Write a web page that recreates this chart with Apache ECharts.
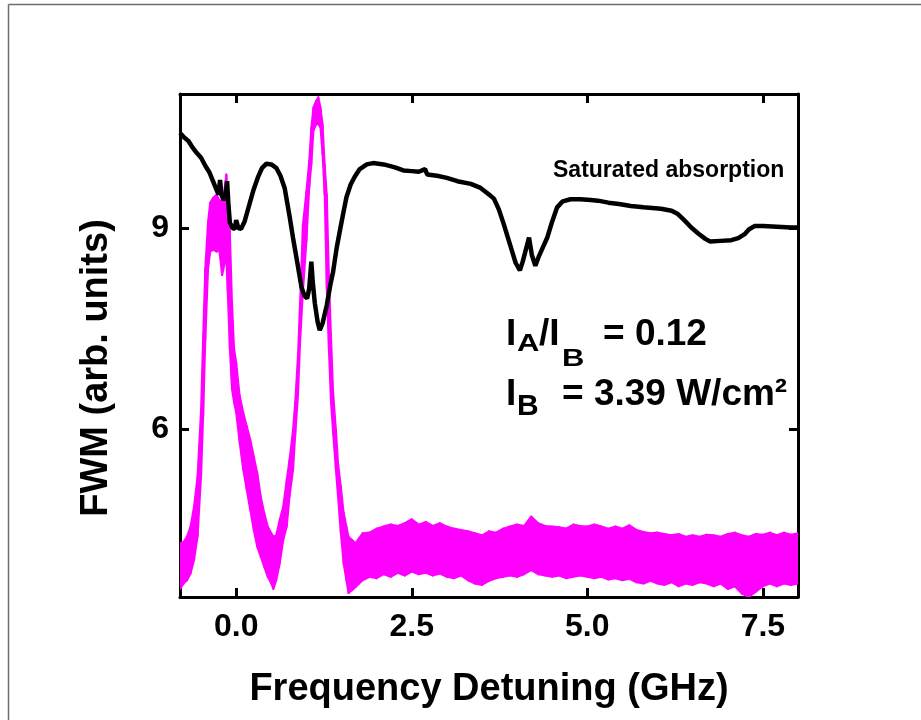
<!DOCTYPE html>
<html>
<head>
<meta charset="utf-8">
<script src="https://cdn.jsdelivr.net/npm/echarts@6/dist/echarts.min.js"></script>
<style>
html,body{margin:0;padding:0;background:#fff;}
#chart{width:921px;height:720px;}
</style>
</head>
<body>
<div id="chart"></div>
<script>
// ---- Data ----
const xTicks = [0, 2.5, 5.0, 7.5];
const yTicks = [6, 9];

// Saturated absorption (black)
const satX = [-0.80,-0.74,-0.68,-0.62,-0.56,-0.50,-0.44,-0.38,-0.33,-0.28,-0.25,-0.23,-0.21,-0.18,-0.15,-0.13,-0.11,-0.09,-0.05,-0.02,0.00,0.03,0.07,0.12,0.19,0.25,0.31,0.37,0.43,0.50,0.57,0.63,0.69,0.76,0.81,0.86,0.93,0.97,1.01,1.04,1.07,1.09,1.12,1.16,1.19,1.23,1.29,1.34,1.38,1.43,1.48,1.53,1.57,1.63,1.69,1.76,1.86,1.95,2.10,2.25,2.38,2.50,2.60,2.69,2.72,2.86,3.00,3.15,3.34,3.48,3.60,3.67,3.74,3.81,3.88,3.93,3.98,4.04,4.08,4.13,4.17,4.21,4.26,4.31,4.37,4.43,4.50,4.57,4.65,4.76,4.90,5.05,5.15,5.30,5.45,5.62,5.80,6.05,6.20,6.29,6.38,6.48,6.58,6.68,6.75,6.90,7.05,7.15,7.24,7.30,7.38,7.50,7.70,7.90,8.00];
const satY = [10.42,10.35,10.30,10.20,10.12,10.05,9.93,9.83,9.70,9.57,9.50,9.72,9.50,9.42,9.48,9.70,9.35,9.08,9.00,8.99,9.12,9.00,8.99,9.10,9.36,9.58,9.76,9.90,9.96,9.95,9.90,9.78,9.60,9.18,8.85,8.55,8.12,8.00,7.95,8.10,8.50,8.20,7.88,7.60,7.48,7.58,7.85,8.15,8.35,8.70,8.98,9.25,9.46,9.65,9.77,9.88,9.95,9.97,9.95,9.91,9.86,9.85,9.84,9.88,9.80,9.78,9.75,9.70,9.66,9.60,9.50,9.44,9.28,9.06,8.82,8.65,8.48,8.37,8.50,8.70,8.86,8.60,8.44,8.58,8.72,8.86,9.10,9.31,9.40,9.43,9.43,9.42,9.41,9.38,9.36,9.33,9.31,9.29,9.26,9.21,9.12,9.01,8.92,8.84,8.80,8.81,8.82,8.85,8.91,8.98,9.03,9.03,9.02,9.01,9.01];

// FWM signal (magenta noisy band): lower and upper edges
const fwmX = [-0.80,-0.75,-0.70,-0.65,-0.60,-0.55,-0.50,-0.47,-0.44,-0.40,-0.37,-0.33,-0.28,-0.24,-0.20,-0.17,-0.14,-0.12,-0.09,-0.06,-0.03,0.00,0.05,0.10,0.15,0.20,0.25,0.30,0.35,0.40,0.45,0.50,0.53,0.57,0.62,0.67,0.72,0.76,0.81,0.84,0.88,0.91,0.95,1.00,1.04,1.07,1.10,1.14,1.17,1.20,1.23,1.26,1.29,1.32,1.35,1.38,1.42,1.45,1.49,1.53,1.57,1.60,1.65,1.70,1.75,1.80,1.9,2.0,2.1,2.2,2.3,2.4,2.5,2.6,2.7,2.8,2.9,3.0,3.1,3.2,3.3,3.4,3.5,3.6,3.7,3.8,3.9,4.0,4.1,4.2,4.3,4.4,4.5,4.6,4.7,4.8,4.9,5.0,5.1,5.2,5.3,5.4,5.5,5.6,5.7,5.8,5.9,6.0,6.1,6.2,6.3,6.4,6.5,6.6,6.7,6.8,6.9,7.0,7.1,7.2,7.3,7.4,7.5,7.6,7.7,7.8,7.9,8.0];
const fwmLow = [3.62,3.70,3.75,3.85,4.05,4.40,5.30,6.20,7.33,8.40,8.65,8.68,8.65,8.67,8.30,8.45,8.55,8.05,7.20,6.60,6.40,6.25,5.80,5.40,5.10,4.80,4.50,4.25,4.10,3.95,3.80,3.70,3.62,3.75,4.00,4.35,4.55,5.00,5.40,5.90,6.50,7.30,8.05,8.80,9.60,9.95,10.45,10.55,10.55,10.50,10.10,9.50,8.10,7.20,6.40,5.95,5.40,5.00,4.45,4.00,3.75,3.56,3.60,3.65,3.70,3.75,3.80,3.78,3.84,3.80,3.86,3.82,3.88,3.84,3.86,3.82,3.85,3.80,3.78,3.82,3.75,3.70,3.68,3.74,3.78,3.80,3.82,3.80,3.84,3.90,3.84,3.82,3.80,3.82,3.78,3.80,3.82,3.80,3.78,3.80,3.76,3.78,3.75,3.77,3.72,3.70,3.74,3.70,3.68,3.72,3.66,3.70,3.68,3.72,3.70,3.66,3.70,3.62,3.66,3.55,3.50,3.58,3.66,3.70,3.66,3.70,3.68,3.70];
const fwmHigh = [4.30,4.32,4.40,4.55,4.85,5.30,6.30,7.40,8.40,9.10,9.38,9.45,9.50,9.42,9.40,9.55,9.80,9.40,8.95,7.90,7.20,7.00,6.50,6.25,6.05,5.85,5.60,5.35,5.00,4.75,4.55,4.45,4.40,4.42,4.65,4.85,5.25,5.55,6.00,6.40,7.10,7.90,9.05,9.55,10.00,10.50,10.80,10.90,10.95,10.80,10.55,9.95,9.50,8.30,7.40,6.55,6.00,5.50,5.15,4.76,4.55,4.40,4.35,4.30,4.38,4.45,4.46,4.52,4.55,4.58,4.56,4.60,4.66,4.58,4.62,4.56,4.60,4.55,4.52,4.50,4.48,4.45,4.42,4.48,4.46,4.52,4.55,4.58,4.56,4.70,4.60,4.56,4.55,4.54,4.52,4.58,4.56,4.55,4.58,4.55,4.52,4.55,4.52,4.57,4.50,4.47,4.45,4.46,4.44,4.42,4.44,4.40,4.42,4.40,4.43,4.42,4.40,4.44,4.46,4.42,4.40,4.44,4.43,4.46,4.42,4.46,4.43,4.45];

// ---- Chart ----
const FONT = "'Liberation Sans', Arial, sans-serif";
const MAGENTA = '#ff00ff';
const chart = echarts.init(document.getElementById('chart'), null, {renderer: 'canvas'});
const axisLineStyle = {color: '#000', width: 3};
const tickStyle = {color: '#000', width: 3};

function renderBand(params, api) {
  const i = params.dataIndex;
  if (i >= fwmX.length - 1) return null;
  const pts = [
    api.coord([fwmX[i], fwmLow[i]]),
    api.coord([fwmX[i + 1], fwmLow[i + 1]]),
    api.coord([fwmX[i + 1], fwmHigh[i + 1]]),
    api.coord([fwmX[i], fwmHigh[i]])
  ];
  return {
    type: 'polygon',
    shape: {points: pts},
    style: {fill: MAGENTA, stroke: MAGENTA, lineWidth: 2, lineJoin: 'round'}
  };
}

const option = {
  backgroundColor: '#fff',
  animation: false,
  grid: {left: 180, top: 94, width: 618, height: 503},
  xAxis: [
    {
      type: 'value', min: -0.8, max: 8.0, position: 'bottom',
      axisLine: {show: true, onZero: false, lineStyle: axisLineStyle},
      axisTick: {show: true, inside: true, length: 9, lineStyle: tickStyle, customValues: xTicks},
      axisLabel: {customValues: xTicks, margin: 14, color: '#000', fontFamily: FONT, fontWeight: 'bold', fontSize: 32,
                  formatter: v => Number(v).toFixed(1)},
      splitLine: {show: false},
      name: 'Frequency Detuning (GHz)', nameLocation: 'middle', nameGap: 74,
      nameTextStyle: {color: '#000', fontFamily: FONT, fontWeight: 'bold', fontSize: 38}
    },
    {
      type: 'value', min: -0.8, max: 8.0, position: 'top',
      axisLine: {show: true, onZero: false, lineStyle: axisLineStyle},
      axisTick: {show: true, inside: true, length: 9, lineStyle: tickStyle, customValues: xTicks},
      axisLabel: {show: false},
      splitLine: {show: false}
    }
  ],
  yAxis: [
    {
      type: 'value', min: 3.5, max: 11, position: 'left',
      axisLine: {show: true, onZero: false, lineStyle: axisLineStyle},
      axisTick: {show: true, inside: true, length: 9, lineStyle: tickStyle, customValues: yTicks},
      axisLabel: {customValues: yTicks, margin: 11, color: '#000', fontFamily: FONT, fontWeight: 'bold', fontSize: 32},
      splitLine: {show: false}
    },
    {
      type: 'value', min: 3.5, max: 11, position: 'right',
      axisLine: {show: true, onZero: false, lineStyle: axisLineStyle},
      axisTick: {show: true, inside: true, length: 9, lineStyle: tickStyle, customValues: yTicks},
      axisLabel: {show: false},
      splitLine: {show: false}
    }
  ],
  series: [
    {
      name: 'FWM', type: 'custom', z: 2, clip: true,
      renderItem: renderBand,
      encode: {x: 0, y: [1, 2]},
      data: fwmX.map((x, i) => [x, fwmLow[i], fwmHigh[i]])
    },
    {
      name: 'Saturated absorption', type: 'line', symbol: 'none', z: 3,
      data: satX.map((x, i) => [x, satY[i]]),
      lineStyle: {color: '#000', width: 4.5}
    }
  ],
  graphic: [
    {type: 'line', shape: {x1: 8.5, y1: 4.5, x2: 921, y2: 4.5}, style: {stroke: '#6e6e6e', lineWidth: 1.5}},
    {type: 'line', shape: {x1: 8.5, y1: 4.5, x2: 8.5, y2: 720}, style: {stroke: '#6e6e6e', lineWidth: 1.5}},
    {type: 'text', x: 97, y: 368, rotation: Math.PI / 2,
     style: {text: 'FWM (arb. units)', font: "bold 38px " + FONT, fill: '#000', textAlign: 'center', textVerticalAlign: 'middle'}},
    {type: 'text', x: 553, y: 171,
     style: {text: 'Saturated absorption', font: "bold 23px " + FONT, fill: '#000', textAlign: 'left', textVerticalAlign: 'middle'}},
    // I_A/I_B = 0.12
    {type: 'text', x: 506, y: 335, style: {text: 'I', font: "bold 37px " + FONT, fill: '#000', textAlign: 'left', textVerticalAlign: 'middle'}},
    {type: 'text', x: 517, y: 344, scaleY: 0.8, style: {text: 'A', font: "bold 31px " + FONT, fill: '#000', textAlign: 'left', textVerticalAlign: 'middle'}},
    {type: 'text', x: 539, y: 335, style: {text: '/I', font: "bold 37px " + FONT, fill: '#000', textAlign: 'left', textVerticalAlign: 'middle'}},
    {type: 'text', x: 562, y: 359, scaleY: 0.8, style: {text: 'B', font: "bold 31px " + FONT, fill: '#000', textAlign: 'left', textVerticalAlign: 'middle'}},
    {type: 'text', x: 603, y: 335, style: {text: '= 0.12', font: "bold 37px " + FONT, fill: '#000', textAlign: 'left', textVerticalAlign: 'middle'}},
    // I_B = 3.39 W/cm²
    {type: 'text', x: 506, y: 395, style: {text: 'I', font: "bold 37px " + FONT, fill: '#000', textAlign: 'left', textVerticalAlign: 'middle'}},
    {type: 'text', x: 517, y: 407, style: {text: 'B', font: "bold 30px " + FONT, fill: '#000', textAlign: 'left', textVerticalAlign: 'middle'}},
    {type: 'text', x: 562, y: 395, style: {text: '= 3.39 W/cm²', font: "bold 37px " + FONT, fill: '#000', textAlign: 'left', textVerticalAlign: 'middle'}}
  ]
};
chart.setOption(option);
</script>
</body>
</html>
